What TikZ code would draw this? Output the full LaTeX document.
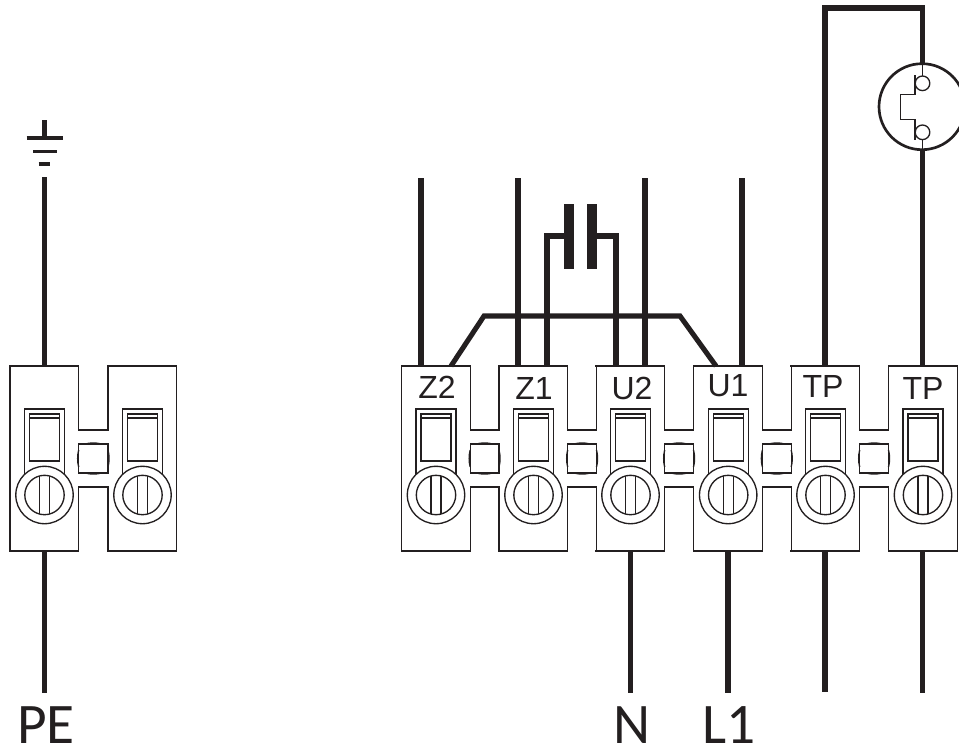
\documentclass[tikz,border=0pt]{standalone}
\usepackage{fontspec}
\setmainfont{Liberation Sans}
\newfontfamily\namefont{Carlito}
\definecolor{ink}{RGB}{35, 31, 32}
\tikzset{
  wire/.style={line width=3.8pt, color=ink},
  earthbar/.style={line width=2.7pt, color=ink},
  thinline/.style={line width=1pt, color=ink},
  termtext/.style={font=\fontsize{24}{24}\selectfont, text=ink, inner sep=0pt},
  wirename/.style={font=\namefont\fontsize{43}{43}\selectfont, text=ink, inner sep=0pt}
}
% one terminal block, #1 = left edge
\newcommand{\blockbody}[1]{
  \draw[thinline] (#1, 366) rectangle (#1+68.7, 551);
  \draw[thinline] (#1+14.5, 480) -- (#1+14.5, 409) -- (#1+54.5, 409) -- (#1+54.5, 480);
  \draw[thinline] (#1+19.5, 414) rectangle (#1+49.5, 461);
  \draw[thinline] (#1+19.5, 418) -- (#1+49.5, 418);
  \draw[thinline, fill=white] (#1+34.5, 495) circle (28.7);
  \draw[thinline] (#1+34.5, 495) circle (19.7);
  \draw[thinline] (#1+29.5, 475.9) -- (#1+29.5, 514.1) (#1+39.5, 475.9) -- (#1+39.5, 514.1);
}
% the bridge between two blocks, #1 = left edge of the gap, #2 = its width
\newcommand{\blockbridge}[2]{
  \fill[white] (#1-1, 367) rectangle (#1+#2+1, 550);
  \draw[thinline] (#1, 366) -- (#1, 430) -- (#1+#2, 430) -- (#1+#2, 366);
  \draw[thinline] (#1, 551) -- (#1, 487) -- (#1+#2, 487) -- (#1+#2, 551);
  \draw[thinline] (#1, 444) rectangle (#1+#2, 473);
  \draw[thinline] (#1+#2/2-8, 444) .. controls (#1+#2/2-3, 442.6) and (#1+#2/2+3, 442.6) .. (#1+#2/2+8, 444);
  \draw[thinline] (#1+#2/2-8, 473) .. controls (#1+#2/2-3, 474.4) and (#1+#2/2+3, 474.4) .. (#1+#2/2+8, 473);
  \draw[thinline] (#1, 450) .. controls (#1-1.4, 455) and (#1-1.4, 462) .. (#1, 467);
  \draw[thinline] (#1+#2, 450) .. controls (#1+#2+1.4, 455) and (#1+#2+1.4, 462) .. (#1+#2, 467);
}
\begin{document}
\begin{tikzpicture}[x=0.75pt, y=-0.75pt]
  \useasboundingbox (0, 0) rectangle (959, 753);

  % wire ends
  \coordinate (earthtop) at (44.5, 120);
  \coordinate (earthfoot) at (44.5, 138);
  \coordinate (petop) at (44.5, 177);
  \coordinate (pein) at (44.5, 366);
  \coordinate (peout) at (44.5, 551);
  \coordinate (peend) at (44.5, 693);
  \coordinate (zbtop) at (421, 178);
  \coordinate (zbin) at (421, 366);
  \coordinate (zatop) at (518, 178);
  \coordinate (zain) at (518, 366);
  \coordinate (ubtop) at (645, 178);
  \coordinate (ubin) at (645, 366);
  \coordinate (uatop) at (742, 178);
  \coordinate (uain) at (742, 366);
  \coordinate (capleft) at (569, 236);
  \coordinate (capright) at (592, 236);
  \coordinate (capa) at (547, 366);
  \coordinate (capb) at (616, 366);
  \coordinate (linkstart) at (451, 366);
  \coordinate (linkend) at (716, 366);
  \coordinate (nout) at (630.5, 551);
  \coordinate (nend) at (630.5, 693);
  \coordinate (lout) at (728, 551);
  \coordinate (lend) at (728, 693);
  \coordinate (tpaout) at (825, 551);
  \coordinate (tpaend) at (825, 692);
  \coordinate (tpain) at (825, 366);
  \coordinate (tpbout) at (922.5, 551);
  \coordinate (tpbend) at (922.5, 693);
  \coordinate (tpbin) at (922.5, 366);
  \coordinate (tpbtop) at (922.5, 8);
  \coordinate (lamptop) at (922.5, 64);
  \coordinate (lampfoot) at (922.5, 150);

  % left pair
  \foreach \x in {10, 108} {\blockbody{\x}}
  \blockbridge{78.7}{29.3}

  % right row
  \foreach \x in {401.5, 499, 596, 693.7, 791, 888.5} {\blockbody{\x}}
  \foreach \x in {470.2, 567.7, 664.7, 762.4, 859.7} {\blockbridge{\x}{28.8}}

  % wires
  \draw[wire] (earthtop) -- (earthfoot);
  \draw[earthbar] (26.5, 138) -- (62.5, 138);
  \draw[earthbar] (33, 151.3) -- (56.5, 151.3);
  \draw[earthbar] (38.5, 163.7) -- (50, 163.7);
  \draw[wire] (petop) -- (pein);
  \draw[wire] (peout) -- (peend);
  \draw[wire] (zbtop) -- (zbin);
  \draw[wire] (zatop) -- (zain);
  \draw[wire] (ubtop) -- (ubin);
  \draw[wire] (uatop) -- (uain);
  \draw[wire] (capa) |- (capleft);
  \draw[wire] (capb) |- (capright);
  \fill[ink] (563.5, 204) rectangle (574.2, 269);
  \fill[ink] (586.7, 204) rectangle (597.4, 269);
  \draw[wire, line join=miter] (linkstart) -- (484, 316) -- (680, 316) -- (linkend);
  \draw[wire] (nout) -- (nend);
  \draw[wire] (lout) -- (lend);
  \draw[wire] (tpaout) -- (tpaend);
  \draw[wire] (tpbout) -- (tpbend);
  \draw[wire] (lampfoot) -- (tpbin);
  \draw[wire, line join=miter] (tpain) |- (tpbtop) -- (lamptop);

  % thermal switch
  \draw[ink, line width=2pt] (922, 106.7) circle (43);
  \draw[thinline] (lamptop) -- (922.5, 76) (922.5, 140) -- (lampfoot);
  \draw[thinline] (922.5, 83.3) circle (7.3);
  \draw[thinline] (922.5, 132.3) circle (7.3);
  \draw[thinline] (915, 75) -- (915, 94.5) -- (900.7, 94.5) -- (900.7, 119.3) -- (915, 119.3) -- (915, 139.5);

  % labels
  \node[termtext] (zblabel) at (437, 387) {Z2};
  \node[termtext] (zalabel) at (534, 388) {Z1};
  \node[termtext] (ublabel) at (632, 388) {U2};
  \node[termtext] (ualabel) at (728, 386) {U1};
  \node[termtext] (tpalabel) at (823, 386) {TP};
  \node[termtext] (tpblabel) at (923, 388) {TP};
  \node[wirename] (pelabel) at (46, 725) {PE};
  \node[wirename] (nlabel) at (632, 725.5) {N};
  \node[wirename] (llabel) at (729, 725.5) {L1};
\end{tikzpicture}
\end{document}
